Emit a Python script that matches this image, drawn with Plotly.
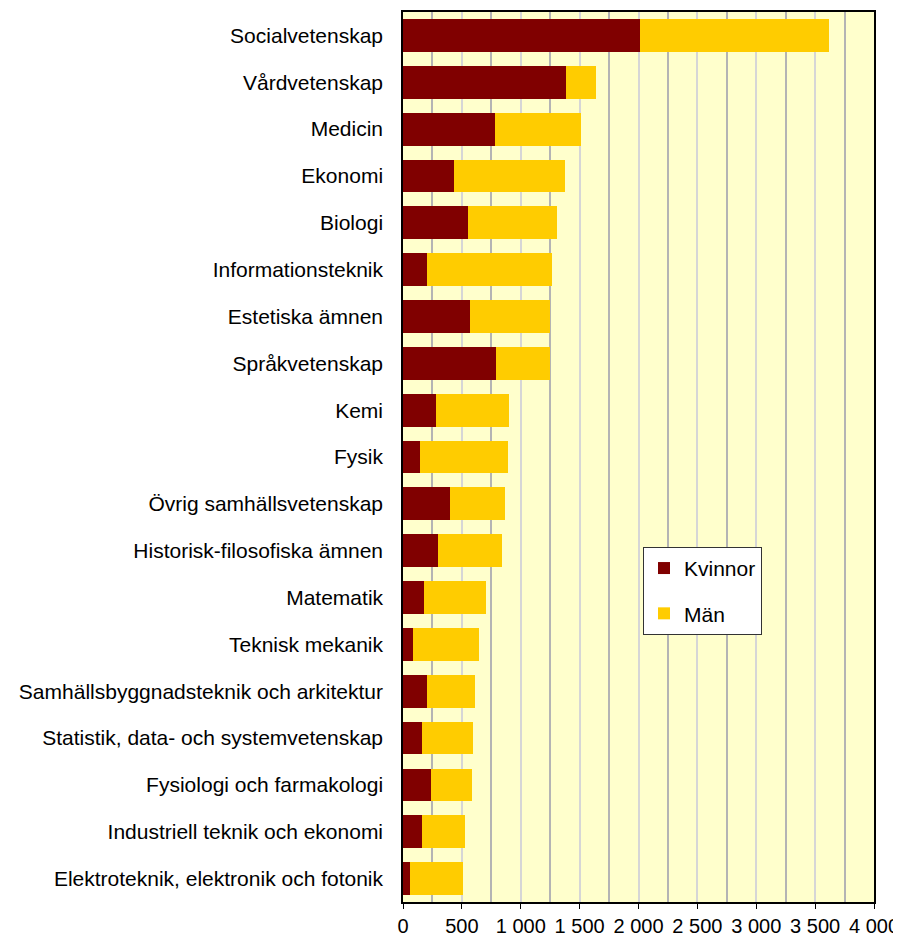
import plotly.graph_objects as go

categories = [
    "Socialvetenskap", "Vårdvetenskap", "Medicin", "Ekonomi", "Biologi",
    "Informationsteknik", "Estetiska ämnen", "Språkvetenskap", "Kemi", "Fysik",
    "Övrig samhällsvetenskap", "Historisk-filosofiska ämnen", "Matematik",
    "Teknisk mekanik", "Samhällsbyggnadsteknik och arkitektur",
    "Statistik, data- och systemvetenskap", "Fysiologi och farmakologi",
    "Industriell teknik och ekonomi", "Elektroteknik, elektronik och fotonik",
]
kvinnor = [2016, 1385, 778, 433, 549, 201, 566, 793, 277, 142, 399, 300, 178, 88, 201, 164, 235, 159, 57]
man = [1600, 255, 736, 946, 759, 1064, 685, 458, 620, 747, 464, 544, 530, 555, 408, 430, 351, 368, 450]
x_ticks = [0, 500, 1000, 1500, 2000, 2500, 3000, 3500, 4000]

FONT = "Liberation Sans, Arial, sans-serif"

fig = go.Figure()
fig.add_trace(go.Bar(y=categories, x=kvinnor, name="Kvinnor", orientation="h",
                     marker=dict(color="#800000", line=dict(width=0)), legendgroup="k"))
fig.add_trace(go.Bar(y=categories, x=man, name="Män", orientation="h",
                     marker=dict(color="#FFCC00", line=dict(width=0)), legendgroup="m"))

fig.update_layout(
    width=893, height=929,
    margin=dict(l=395, r=27, t=4, b=35),
    barmode="stack", bargap=0.3,
    paper_bgcolor="white", plot_bgcolor="#FFFFCC",
    font=dict(family=FONT, size=21, color="black"),
    separators=", ",
    legend=dict(
        x=0.5096, y=0.399, xanchor="left", yanchor="top",
        bgcolor="white", bordercolor="#333333", borderwidth=1,
        font=dict(family=FONT, size=21, color="black"),
        tracegroupgap=15, traceorder="grouped",
    ),
    xaxis=dict(
        range=[0, 4000], tickvals=x_ticks, tickformat=",d", separatethousands=True,
        showgrid=True, gridcolor="#d6d6d6", gridwidth=1.5,
        minor=dict(dtick=250, showgrid=True, gridcolor="#b4b4b4", gridwidth=1.5),
        showline=True, linecolor="black", linewidth=1.5, mirror=True,
        ticks="outside", ticklen=5, tickcolor="black", tickwidth=1,
        zeroline=False, fixedrange=True, automargin=False,
        tickfont=dict(size=20),
    ),
    yaxis=dict(
        autorange="reversed", showgrid=False, showline=True, linecolor="black",
        linewidth=1.5, mirror=True, ticks="", ticklabelstandoff=14, fixedrange=True,
        automargin=False,
    ),
)

fig.write_html("out.html")
